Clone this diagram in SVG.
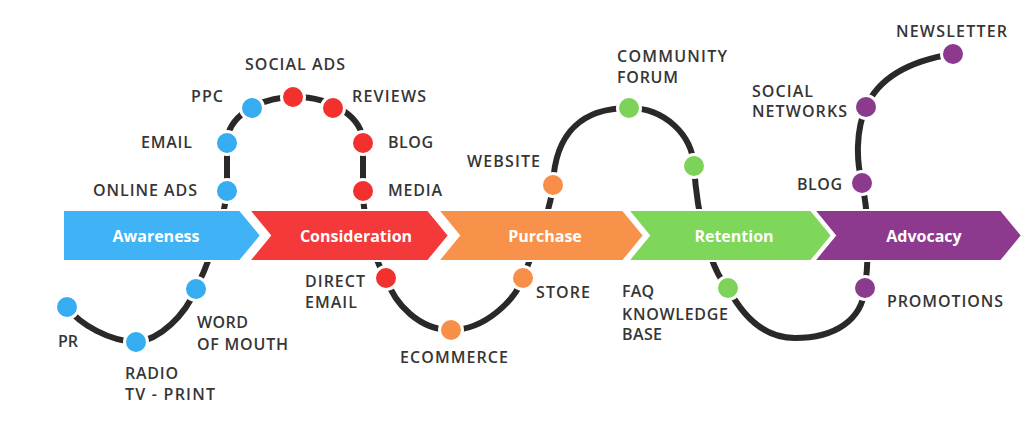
<svg xmlns="http://www.w3.org/2000/svg" width="1024" height="427" viewBox="0 0 1024 427">
<style>
.stage{stroke:#fff;stroke-width:2;stroke-linejoin:miter}
.st{font-family:"Open Sans","Liberation Sans",sans-serif;font-weight:700;font-size:16px;fill:#fff;text-anchor:middle}
.lb{font-family:"Open Sans","Liberation Sans",sans-serif;font-weight:600;font-size:16px;fill:#363636}
.dot{stroke:#fff;stroke-width:3}
.blue{fill:#36adf0}.red{fill:#f2302e}.orange{fill:#f78f48}.green{fill:#7dd35a}.purple{fill:#8c3a8d}
.curve{fill:none;stroke:#2b2828;stroke-width:6;stroke-linecap:butt}
</style>
<rect width="1024" height="427" fill="#fff"/>
<g id="connectors">
<path class="curve" d="M67,307 C80,325 110,341 136,342 C160,340 185,315 196,289 C210,260 224,220 227,191 L227,143 A68,46 0 0 1 363,143 L363,191 C364,230 375,260 386,278 C395,305 420,330 451,330 C485,330 515,300 523,278 C533,250 550,215 553,185 C555,130 585,108 629,108 C665,108 692,135 694,166 C697,215 710,270 728,288 C750,330 775,338 795,338 C835,338 862,320 865,288 C870,250 868,210 862,183 C856,160 856,130 866,107 C880,75 915,60 953,54"/>
</g>
<g id="awareness">
<polygon class="stage" fill="#3fb3f6" points="63,210 240,210 261,235.5 240,261 63,261"/>
<text class="st" x="156" y="242">Awareness</text>
</g>
<g id="consideration">
<polygon class="stage" fill="#f33939" points="249,210 428,210 449,235.5 428,261 249,261 270,235.5"/>
<text class="st" x="356" y="242">Consideration</text>
</g>
<g id="purchase">
<polygon class="stage" fill="#f8924a" points="438,210 623,210 644,235.5 623,261 438,261 459,235.5"/>
<text class="st" x="545" y="242">Purchase</text>
</g>
<g id="retention">
<polygon class="stage" fill="#7ed65a" points="628,210 811,210 832,235.5 811,261 628,261 649,235.5"/>
<text class="st" x="734" y="242">Retention</text>
</g>
<g id="advocacy">
<polygon class="stage" fill="#8d3a8e" points="814,210 1001,210 1022,235.5 1001,261 814,261 835,235.5"/>
<text class="st" x="924" y="242">Advocacy</text>
</g>
<g id="pr"><circle class="dot blue" cx="67" cy="307" r="11.5"/><text class="lb" x="58" y="347" textLength="20" lengthAdjust="spacing">PR</text></g>
<g id="radio"><circle class="dot blue" cx="136" cy="342" r="11.5"/><text class="lb" x="125" y="379" textLength="53" lengthAdjust="spacing">RADIO</text><text class="lb" x="125" y="400" textLength="90" lengthAdjust="spacing">TV - PRINT</text></g>
<g id="word-of-mouth"><circle class="dot blue" cx="196" cy="289" r="11.5"/><text class="lb" x="197" y="328" textLength="51" lengthAdjust="spacing">WORD</text><text class="lb" x="197" y="350" textLength="91" lengthAdjust="spacing">OF MOUTH</text></g>
<g id="online-ads"><circle class="dot blue" cx="227" cy="191" r="11.5"/><text class="lb" x="93" y="196" textLength="104" lengthAdjust="spacing">ONLINE ADS</text></g>
<g id="email"><circle class="dot blue" cx="227" cy="143" r="11.5"/><text class="lb" x="141" y="148" textLength="51" lengthAdjust="spacing">EMAIL</text></g>
<g id="ppc"><circle class="dot blue" cx="252" cy="108" r="11.5"/><text class="lb" x="191" y="102" textLength="32" lengthAdjust="spacing">PPC</text></g>
<g id="social-ads"><circle class="dot red" cx="293" cy="97" r="11.5"/><text class="lb" x="245" y="70" textLength="100" lengthAdjust="spacing">SOCIAL ADS</text></g>
<g id="reviews"><circle class="dot red" cx="333" cy="108" r="11.5"/><text class="lb" x="352" y="102" textLength="74" lengthAdjust="spacing">REVIEWS</text></g>
<g id="blog-red"><circle class="dot red" cx="363" cy="143" r="11.5"/><text class="lb" x="388" y="148" textLength="45" lengthAdjust="spacing">BLOG</text></g>
<g id="media"><circle class="dot red" cx="363" cy="191" r="11.5"/><text class="lb" x="388" y="196" textLength="54" lengthAdjust="spacing">MEDIA</text></g>
<g id="direct-email"><circle class="dot red" cx="386" cy="278" r="11.5"/><text class="lb" x="305" y="287" textLength="60" lengthAdjust="spacing">DIRECT</text><text class="lb" x="305" y="308" textLength="52" lengthAdjust="spacing">EMAIL</text></g>
<g id="ecommerce"><circle class="dot orange" cx="451" cy="330" r="11.5"/><text class="lb" x="400" y="363" textLength="108" lengthAdjust="spacing">ECOMMERCE</text></g>
<g id="store"><circle class="dot orange" cx="523" cy="278" r="11.5"/><text class="lb" x="536" y="298" textLength="54" lengthAdjust="spacing">STORE</text></g>
<g id="website"><circle class="dot orange" cx="553" cy="185" r="11.5"/><text class="lb" x="467" y="167" textLength="73" lengthAdjust="spacing">WEBSITE</text></g>
<g id="community-forum"><circle class="dot green" cx="629" cy="108" r="11.5"/><text class="lb" x="617" y="62" textLength="110" lengthAdjust="spacing">COMMUNITY</text><text class="lb" x="617" y="83" textLength="61" lengthAdjust="spacing">FORUM</text></g>
<g id="retention-point"><circle class="dot green" cx="694" cy="166" r="11.5"/></g>
<g id="faq"><circle class="dot green" cx="728" cy="288" r="11.5"/><text class="lb" x="622" y="297" textLength="32" lengthAdjust="spacing">FAQ</text><text class="lb" x="622" y="320" textLength="106" lengthAdjust="spacing">KNOWLEDGE</text><text class="lb" x="622" y="340" textLength="40" lengthAdjust="spacing">BASE</text></g>
<g id="promotions"><circle class="dot purple" cx="865" cy="288" r="11.5"/><text class="lb" x="887" y="307" textLength="116" lengthAdjust="spacing">PROMOTIONS</text></g>
<g id="blog-purple"><circle class="dot purple" cx="862" cy="183" r="11.5"/><text class="lb" x="797" y="190" textLength="45" lengthAdjust="spacing">BLOG</text></g>
<g id="social-networks"><circle class="dot purple" cx="866" cy="107" r="11.5"/><text class="lb" x="752" y="97" textLength="61" lengthAdjust="spacing">SOCIAL</text><text class="lb" x="752" y="117" textLength="95" lengthAdjust="spacing">NETWORKS</text></g>
<g id="newsletter"><circle class="dot purple" cx="953" cy="54" r="11.5"/><text class="lb" x="896" y="37" textLength="111" lengthAdjust="spacing">NEWSLETTER</text></g>
</svg>
